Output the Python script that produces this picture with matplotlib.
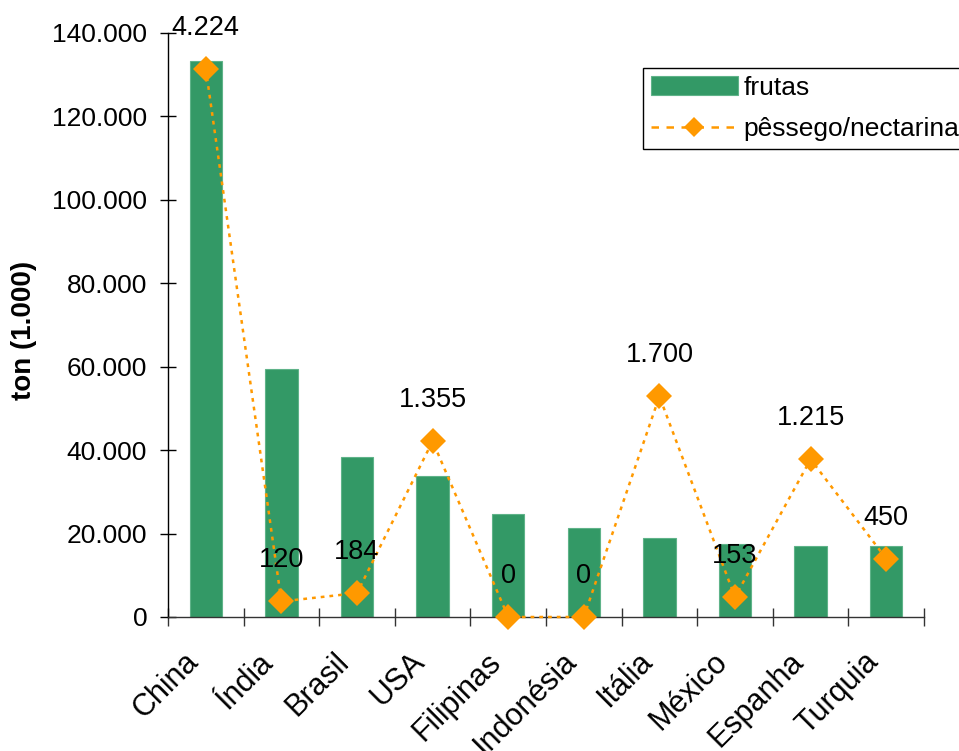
import matplotlib
matplotlib.use("Agg")
import matplotlib.pyplot as plt
import matplotlib.transforms as mtransforms
from matplotlib.ticker import FuncFormatter, MultipleLocator, FixedLocator
import numpy as np

# Production by country: all fruit (left axis, 1000 t) and peach/nectarine (right axis, hidden)
categories = ['China', 'Índia', 'Brasil', 'USA', 'Filipinas', 'Indonésia',
              'Itália', 'México', 'Espanha', 'Turquia']
frutas = [133400, 59400, 38400, 33900, 24700, 21300, 19000, 17600, 17000, 17000]
pessego = [4224, 120, 184, 1355, 0, 0, 1700, 153, 1215, 450]
pessego_labels = ['4.224', '120', '184', '1.355', '0', '0', '1.700', '153', '1.215', '450']

plt.rcParams['font.family'] = ['Liberation Sans', 'DejaVu Sans']
FS = 19.5
GREEN = '#339966'
ORANGE = '#FF9900'

fig = plt.figure(figsize=(9.59, 7.51), dpi=100)
W, H = 959, 751
ax = fig.add_axes([168 / W, 1 - 617 / H, (924 - 168) / W, (617 - 33) / H])

x = np.arange(len(categories))
ax.bar(x, frutas, width=0.43, color=GREEN, edgecolor='#5fb389', linewidth=0.8,
       label='frutas', zorder=2)

ax.set_xlim(-0.5, len(categories) - 0.5)
ax.set_ylim(0, 140000)
ax.yaxis.set_major_locator(MultipleLocator(20000))
ax.yaxis.set_major_formatter(FuncFormatter(lambda v, p: f"{int(round(v)):,}".replace(',', '.')))

for side in ('top', 'right'):
    ax.spines[side].set_visible(False)
ax.spines['left'].set_color('black')
ax.spines['bottom'].set_color('#333333')
ax.spines['left'].set_linewidth(1.0)
ax.spines['bottom'].set_linewidth(1.0)

ax.tick_params(axis='y', direction='inout', length=12, width=1.0, pad=9, labelsize=19)
ax.set_xticks(x)
ax.xaxis.set_minor_locator(FixedLocator(np.arange(-0.5, len(categories), 1.0)))
ax.tick_params(axis='x', which='major', length=0, pad=29, labelsize=22)
ax.tick_params(axis='x', which='minor', direction='inout', length=12.5, width=1.0,
               color='#333333')
ax.set_xticklabels(categories, rotation=45, ha='right', va='center',
                   rotation_mode='anchor')
shift = mtransforms.ScaledTranslation(-12 / 100, 0, fig.dpi_scale_trans)
for lbl in ax.get_xticklabels():
    lbl.set_transform(lbl.get_transform() + shift)

fig.text(24 / W, 1 - 330 / H, 'ton (1.000)', rotation=90, ha='center', va='center',
         fontsize=20, fontweight='bold')

# Secondary (hidden) axis for peach/nectarine
ax2 = ax.twinx()
ax2.set_ylim(0, 4500)
ax2.axis('off')
ax2.plot(x, pessego, color=ORANGE, linestyle=(0, (1.5, 2.0)), linewidth=1.8,
         marker='D', markersize=13.5, markerfacecolor=ORANGE, markeredgewidth=0,
         label='pêssego/nectarina', clip_on=False, zorder=3)
for xi, yi, txt in zip(x, pessego, pessego_labels):
    ax2.annotate(txt, (xi, yi), xytext=(0, 29.5), textcoords='offset points',
                 ha='center', va='center', fontsize=FS, annotation_clip=False)

h1, l1 = ax.get_legend_handles_labels()
h2, l2 = ax2.get_legend_handles_labels()
leg = fig.legend(h1 + h2, l1 + l2, loc='upper left',
                 bbox_to_anchor=(643 / W, 1 - 68 / H), bbox_transform=fig.transFigure,
                 fontsize=19, frameon=True, fancybox=False, edgecolor='black',
                 framealpha=1, borderpad=0.3, labelspacing=0.65, handlelength=3.3,
                 handletextpad=0.2, borderaxespad=0, numpoints=1, markerscale=0.75)
leg.get_frame().set_linewidth(1.0)
leg.get_lines()[0].set_linestyle((0, (3, 3)))

fig.savefig('out.png', dpi=100)
